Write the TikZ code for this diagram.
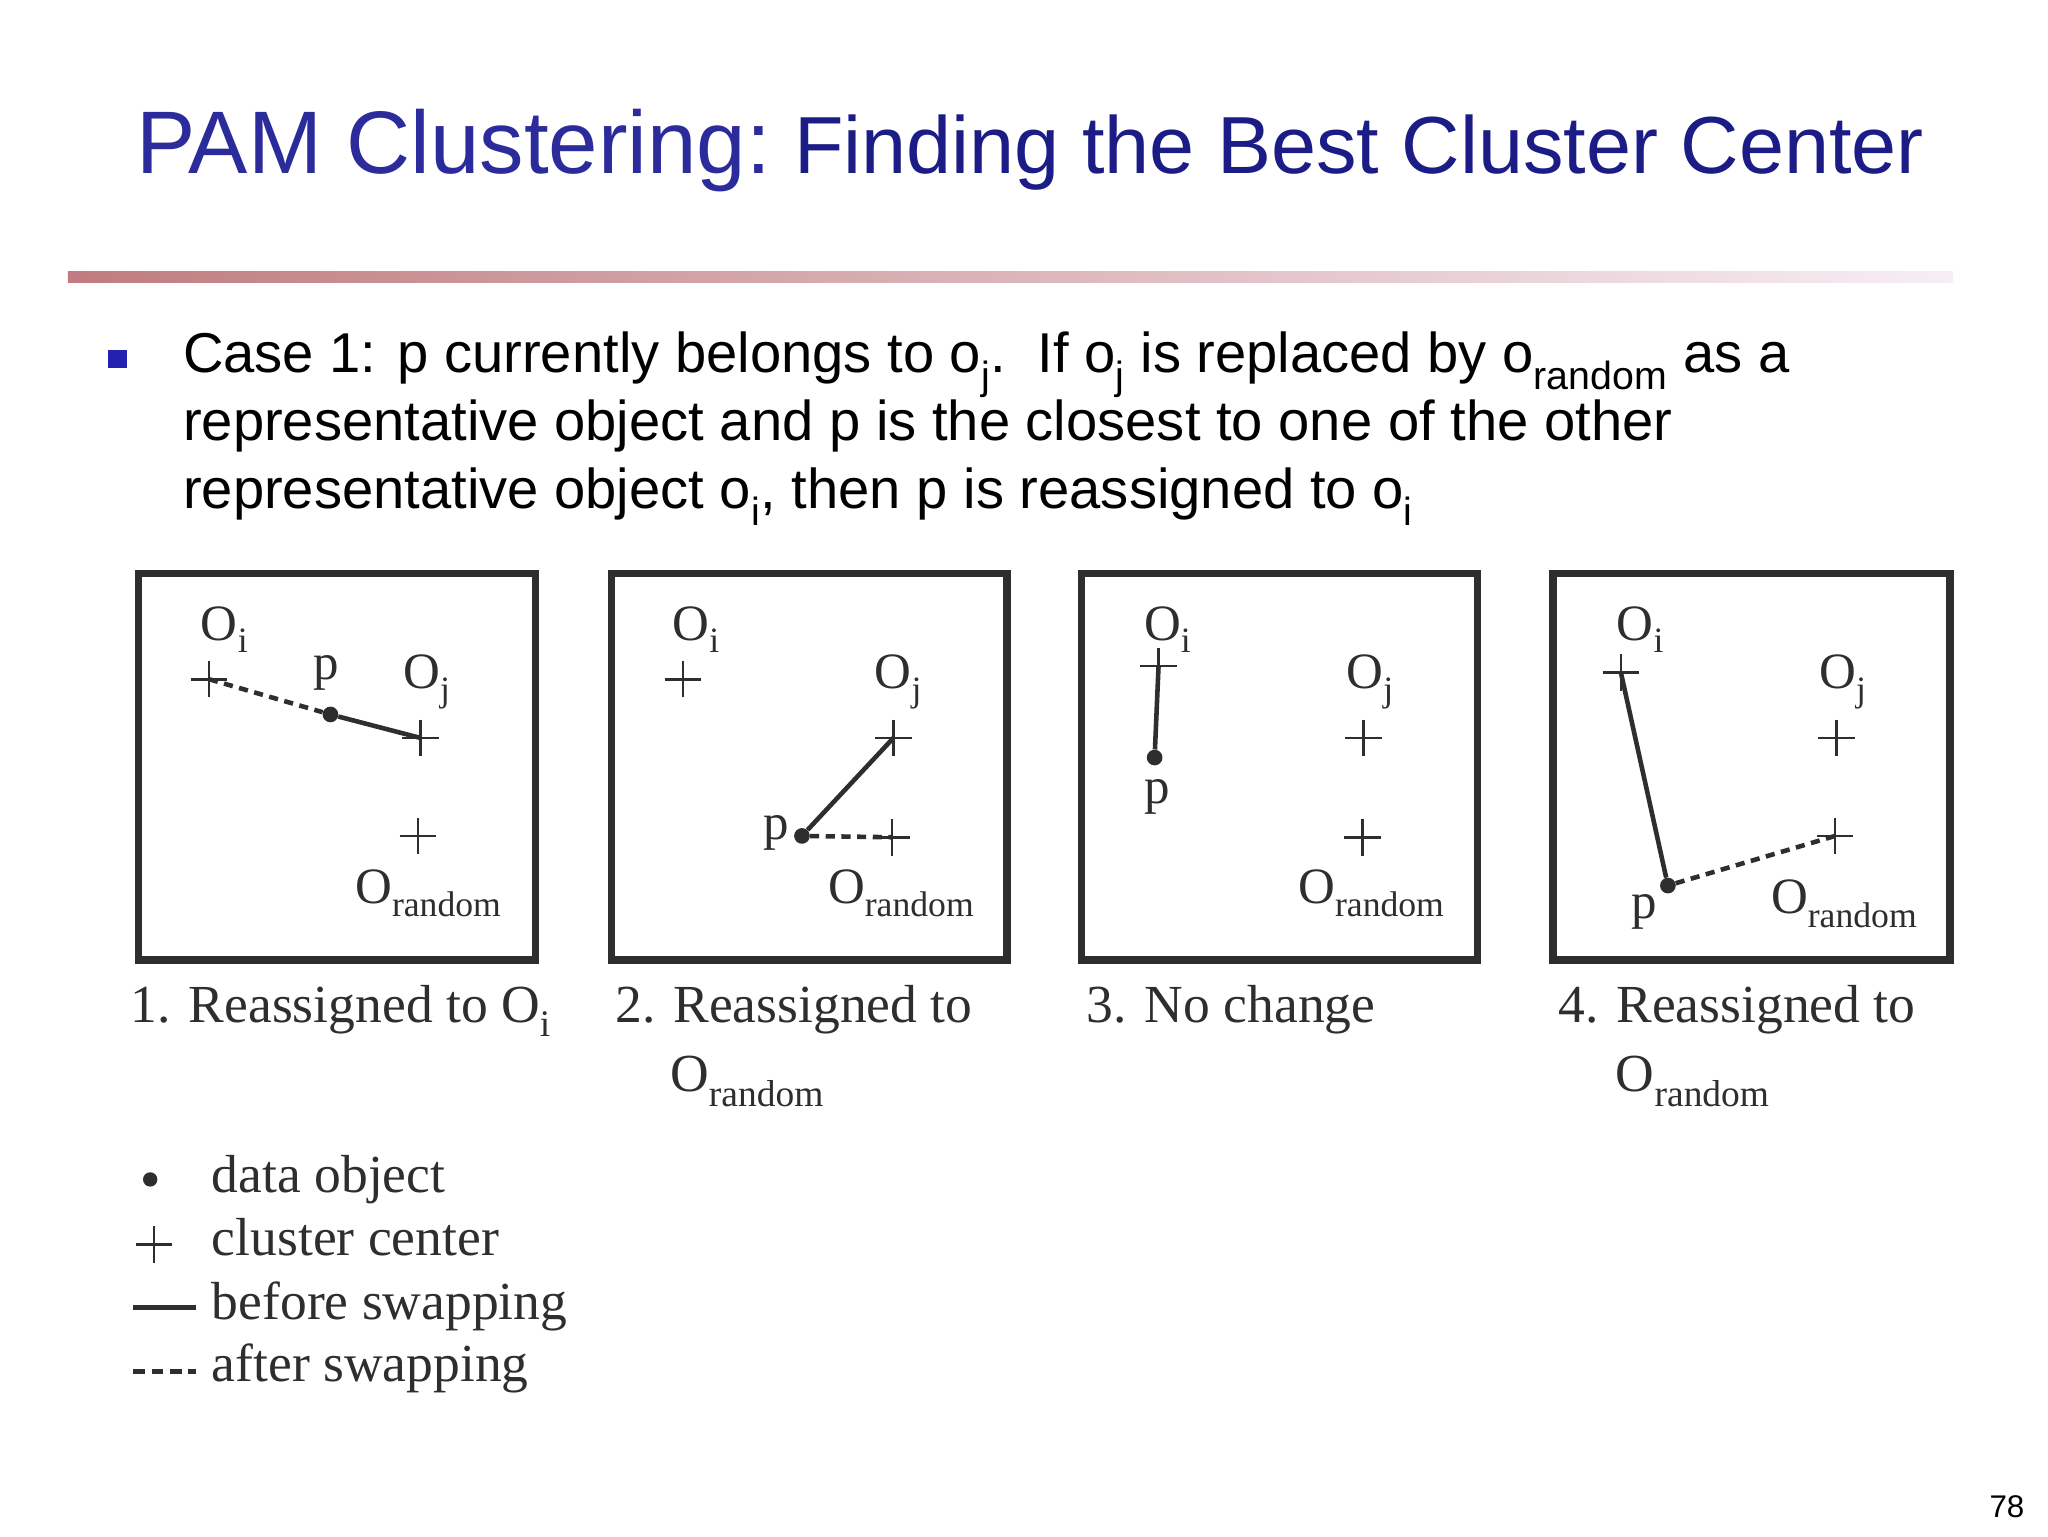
\documentclass[tikz,border=0pt]{standalone}
\usepackage{fontspec}
\usetikzlibrary{calc}
\setmainfont{Liberation Serif}
\newfontfamily\arial{Liberation Sans}
\definecolor{ttl}{HTML}{2B2B9B}
\definecolor{ttlb}{HTML}{1C1C86}
\definecolor{gry}{HTML}{2E2E2E}
\definecolor{rose}{HTML}{C07C80}
\definecolor{pinkw}{HTML}{F6EEF4}
\begin{document}
\begin{tikzpicture}[x=1pt,y=-1pt,
  frame/.style={draw=gry,line width=5.5pt},
  lbl/.style={text=gry,font=\fontsize{39}{42}\selectfont,inner sep=0pt},
  captxt/.style={text=gry,font=\fontsize{41}{44}\selectfont,anchor=base west,inner sep=0pt},
  dotn/.style={circle,fill=gry,inner sep=0pt,minimum size=12pt},
  solidl/.style={draw=gry,line width=3.5pt},
  dashl/.style={draw=gry,line width=3.5pt,dash pattern=on 7pt off 5pt},
  body/.style={font=\arial\fontsize{43}{50}\selectfont,anchor=base west,inner sep=0pt}]
\useasboundingbox (0,0) rectangle (1568,1176);
\fill[white] (0,0) rectangle (1568,1176);
\newcommand\crs[1]{\draw[gry,line width=2pt] ($(#1)+(-14,0)$) -- ($(#1)+(14,0)$) ($(#1)+(0,-14)$) -- ($(#1)+(0,14)$);}
% title
\node[body,text=ttl,font=\arial\fontsize{68}{70}\selectfont] (t1) at (104,133) {PAM Clustering:};
\node[body,text=ttlb,font=\arial\fontsize{62}{64}\selectfont] (t2) at (t1.base east) {\ Finding the Best Cluster Center};
\shade[left color=rose,right color=pinkw] (52,208) rectangle (1495,216);
% bullet
\fill[ttl!80!blue] (83,268) rectangle (97,282);
\node[body] (l1) at (140,285) {Case 1: p currently belongs to o\textsubscript{j}.\ \ If o\textsubscript{j} is replaced by o\textsubscript{random} as a};
\node[body] (l2) at (140,337) {representative object and p is the closest to one of the other};
\node[body] (l3) at (140,389) {representative object o\textsubscript{i}, then p is reassigned to o\textsubscript{i}};
% frames
\draw[frame] (106,439) rectangle (410,735);
\draw[frame] (468,439) rectangle (771,735);
\draw[frame] (828,439) rectangle (1131,735);
\draw[frame] (1189,439) rectangle (1493,735);
% box1
\coordinate (a1) at (160,520); \coordinate (b1) at (322,565); \coordinate (c1) at (320,640);
\node[dotn] (p1) at (253,547) {};
\draw[dashl] (a1) -- (p1); \draw[solidl] (p1) -- (b1);
\crs{a1}\crs{b1}\crs{c1}
\node[lbl] (oi1) at (172,482) {O\textsubscript{i}};
\node[lbl] (pl1) at (250,515) {p};
\node[lbl] (oj1) at (327,522) {O\textsubscript{j}};
\node[lbl] (or1) at (328,684) {O\textsubscript{random}};
% box2
\coordinate (a2) at (523,520); \coordinate (b2) at (684,565); \coordinate (c2) at (683,641);
\node[dotn] (p2) at (614,640) {};
\draw[solidl] (p2) -- (b2); \draw[dashl] (p2) -- (c2);
\crs{a2}\crs{b2}\crs{c2}
\node[lbl] (oi2) at (533,482) {O\textsubscript{i}};
\node[lbl] (pl2) at (594,638) {p};
\node[lbl] (oj2) at (688,522) {O\textsubscript{j}};
\node[lbl] (or2) at (690,684) {O\textsubscript{random}};
% box3
\coordinate (a3) at (887,510); \coordinate (b3) at (1044,565); \coordinate (c3) at (1043,641);
\node[dotn] (p3) at (884,580) {};
\draw[solidl] (a3) -- (p3);
\crs{a3}\crs{b3}\crs{c3}
\node[lbl] (oi3) at (894,482) {O\textsubscript{i}};
\node[lbl] (pl3) at (886,610) {p};
\node[lbl] (oj3) at (1049,522) {O\textsubscript{j}};
\node[lbl] (or3) at (1050,684) {O\textsubscript{random}};
% box4
\coordinate (a4) at (1241,515); \coordinate (b4) at (1406,565); \coordinate (c4) at (1405,640);
\node[dotn] (p4) at (1277,678) {};
\draw[solidl] (a4) -- (p4); \draw[dashl] (p4) -- (c4);
\crs{a4}\crs{b4}\crs{c4}
\node[lbl] (oi4) at (1256,482) {O\textsubscript{i}};
\node[lbl] (pl4) at (1259,698) {p};
\node[lbl] (oj4) at (1411,522) {O\textsubscript{j}};
\node[lbl] (or4) at (1412,692) {O\textsubscript{random}};
% captions
\node[captxt] (k1) at (100,783) {1. Reassigned to O\textsubscript{i}};
\node[captxt] (k2) at (471,783) {2. Reassigned to};
\node[captxt] (k2b) at (513,836) {O\textsubscript{random}};
\node[captxt] (k3) at (832,783) {3. No change};
\node[captxt] (k4) at (1193,783) {4. Reassigned to};
\node[captxt] (k4b) at (1237,836) {O\textsubscript{random}};
% legend
\node[dotn,minimum size=11pt] (ld) at (115,903) {};
\coordinate (lc) at (118,953); \crs{lc}
\coordinate (ls1) at (102,1001); \coordinate (ls2) at (150,1001);
\draw[solidl,line width=4.5pt] (ls1) -- (ls2);
\coordinate (lt1) at (102,1050); \coordinate (lt2) at (150,1050);
\draw[dashl,line width=4.5pt,dash pattern=on 9pt off 5pt] (lt1) -- (lt2);
\node[captxt] (g1) at (162,913) {data object};
\node[captxt] (g2) at (162,961) {cluster center};
\node[captxt] (g3) at (162,1010) {before swapping};
\node[captxt] (g4) at (162,1058) {after swapping};
\node[body,font=\arial\fontsize{24}{28}\selectfont] (pg) at (1523,1162) {78};
\end{tikzpicture}
\end{document}
